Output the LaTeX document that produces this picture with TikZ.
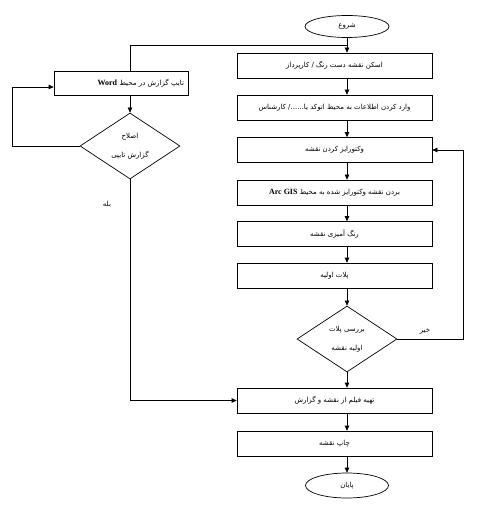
\documentclass[tikz,border=0pt]{standalone}
\usepackage{fontspec}
\usetikzlibrary{shapes.geometric,arrows.meta,calc}
\TeXXeTstate=1
\newfontfamily\arabicfont[Script=Arabic]{DejaVu Sans}
\newfontfamily\latinserif{Liberation Serif}
\newcommand{\fa}[1]{\beginR #1\endR}
\newcommand{\lat}[1]{\beginL{\latinserif\bfseries\fontsize{8}{9}\selectfont #1}\endL}
\begin{document}
\begin{tikzpicture}[x=1pt,y=-1pt,
  line width=0.7pt,
  txt/.style={font=\arabicfont\fontsize{7}{8}\selectfont},
  procbox/.style={draw,rectangle,minimum width=195pt,minimum height=25pt,inner sep=1pt,txt},
  term/.style={draw,ellipse,inner sep=0pt,txt},
  decide/.style={draw,diamond,minimum width=100pt,minimum height=66pt,inner sep=0pt,align=center,
     font=\arabicfont\fontsize{7}{19}\selectfont},
  arr/.style={-{Triangle[length=5pt,width=4.5pt]}},
  lbl/.style={txt,inner sep=1pt}
]
\useasboundingbox (0,0) rectangle (490,510);
\node[term,minimum width=84pt,minimum height=22pt] (start) at (347,26.5) {\fa{شروع}};
\node[procbox] (b1) at (334.5,65.5) {\fa{اسکن نقشه دست رنگ / کارپرداز}};
\node[procbox] (b2) at (334.5,107.5) {\fa{وارد کردن اطلاعات به محیط اتوکد یا....../ کارشناس}};
\node[procbox] (b3) at (334.5,150) {\fa{وکتورایز کردن نقشه}};
\node[procbox] (b4) at (334.5,192.5) {\fa{بردن نقشه وکتورایز شده به محیط \lat{Arc GIS}}};
\node[procbox] (b5) at (334.5,234) {\fa{رنگ آمیزی نقشه}};
\node[procbox] (b6) at (334.5,275.5) {\fa{پلات اولیه}};
\node[decide] (d1) at (347,339) {\fa{بررسی پلات}\\\fa{اولیه نقشه}};
\node[procbox] (b7) at (334.5,400.5) {\fa{تهیه فیلم از نقشه و گزارش}};
\node[procbox] (b8) at (334.5,443.5) {\fa{چاپ نقشه}};
\node[term,minimum width=83pt,minimum height=25pt] (end) at (347,485.5) {\fa{پایان}};

\node[draw,rectangle,minimum width=134pt,minimum height=24pt,inner sep=0pt,txt,
      text width=126pt,align=right] (word) at (121,83) {\fa{تایپ گزارش در محیط \lat{Word}}};
\node[decide] (d2) at (130,146) {\fa{اصلاح}\\\fa{گزارش تایپی}};

\node[lbl] (no) at (425,331) {\fa{خیر}};
\node[lbl] (yes) at (107,204) {\fa{بله}};

\coordinate (fbk) at (463,0);
\coordinate (join) at (347,45);
\coordinate (lp) at (12,87);

\draw[arr] (start) -- (b1.north -| start);
\draw[arr] (b1.south -| start) -- (b2.north -| start);
\draw[arr] (b2.south -| start) -- (b3.north -| start);
\draw[arr] (b3.south -| start) -- (b4.north -| start);
\draw[arr] (b4.south -| start) -- (b5.north -| start);
\draw[arr] (b5.south -| start) -- (b6.north -| start);
\draw[arr] (b6.south -| start) -- (d1.north);
\draw[arr] (d1.south) -- (b7.north -| start);
\draw[arr] (b7.south -| start) -- (b8.north -| start);
\draw[arr] (b8.south -| start) -- (end.north);
\draw[arr] (d1.east) -- (d1.east -| fbk) |- (b3.east);

\draw (word.north -| d2) |- (join);
\draw[arr] (word.south -| d2) -- (d2.north);
\draw[arr] (d2.west) -| (lp) -- (lp -| word.west);
\draw[arr] (d2.south) |- (b7.west);
\end{tikzpicture}
\end{document}
